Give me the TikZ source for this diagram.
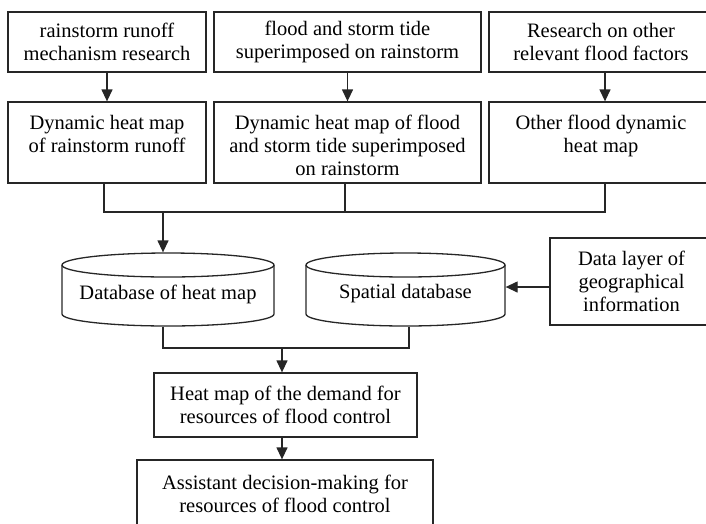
\documentclass[tikz,border=0pt]{standalone}
\usepackage{fontspec}
\setmainfont{Liberation Serif}
\usetikzlibrary{arrows.meta}
\begin{document}
\begin{tikzpicture}[x=1pt,y=-1pt,
  line width=1.3pt,
  color=black!85,
  box/.style={draw=black!85, inner sep=0pt},
  txt/.style={inner sep=0pt, align=center, font=\fontsize{20.5}{23}\selectfont, text=black},
  arr/.style={-{Triangle[length=12pt,width=11pt]}}]
\useasboundingbox (0,0) rectangle (706,523);
\clip (0,0) rectangle (706,523);
% top row
\node[box,txt,minimum width=198pt,minimum height=60pt] (a1) at (107,42) {rainstorm runoff\\mechanism research};
\node[box,txt,minimum width=267pt,minimum height=60pt] (a2) at (347.5,42) {flood and storm tide\\superimposed on rainstorm};
\node[box,txt,minimum width=224pt,minimum height=60pt] (a3) at (601,42) {Research on other\\relevant flood factors};
% second row
\node[box,minimum width=198pt,minimum height=81pt] (b1) at (107,142.5) {};
\node[txt,anchor=north] (b1t) at (107,113) {\strut Dynamic heat map\\of rainstorm runoff};
\node[box,minimum width=267pt,minimum height=81pt] (b2) at (347.5,142.5) {};
\node[txt,anchor=north] (b2t) at (347.5,113) {\strut Dynamic heat map of flood\\and storm tide superimposed\\on rainstorm};
\node[box,minimum width=224pt,minimum height=81pt] (b3) at (601,142.5) {};
\node[txt,anchor=north] (b3t) at (601,113) {\strut Other flood dynamic\\heat map};
% databases
\node[minimum width=212pt,minimum height=73pt,inner sep=0pt] (db1) at (168,289.5) {};
\draw (62,265) -- (62,314) arc[start angle=180,end angle=0,x radius=106,y radius=12] -- (274,265);
\draw (168,265) ellipse[x radius=106,y radius=12];
\node[txt] (db1t) at (168,294) {Database of heat map};
\node[minimum width=199pt,minimum height=73pt,inner sep=0pt] (db2) at (405.5,289.5) {};
\draw (306,265) -- (306,314) arc[start angle=180,end angle=0,x radius=99.5,y radius=12] -- (505,265);
\draw (405.5,265) ellipse[x radius=99.5,y radius=12];
\node[txt] (db2t) at (405.5,294) {Spatial database};
% geographic info
\node[box,txt,minimum width=163pt,minimum height=87pt] (gi) at (631.5,281.5) {Data layer of\\geographical\\information};
% bottom boxes
\node[box,txt,minimum width=263pt,minimum height=64pt] (hm) at (285.5,405) {Heat map of the demand for\\resources of flood control};
\node[box,minimum width=296pt,minimum height=85pt] (ad) at (285,502.5) {};
\node[txt,anchor=north] (adt) at (285,473) {\strut Assistant decision-making for\\resources of flood control};
% connectors
\draw[arr] (a1) -- (b1);
\draw[arr] (a2) -- (b2);
\draw[arr] ([xshift=4pt]a3.south) -- ([xshift=4pt]b3.north);
\coordinate (j1) at (163,212);
\draw ([xshift=-3pt]b1.south) |- ([xshift=4pt]b3.south |- j1) -- ([xshift=4pt]b3.south);
\draw ([xshift=-2.5pt]b2.south) -- ([xshift=-2.5pt]b2.south |- j1);
\draw[arr] (j1) -- (j1 |- db1.north);
\draw[arr] ([yshift=-5.5pt]gi.west) -- ([yshift=-5.5pt]gi.west -| db2.east);
\coordinate (j2) at (282,348);
\draw ([xshift=-5pt]db1.south) |- ([xshift=3.5pt]db2.south |- j2) -- ([xshift=3.5pt]db2.south);
\draw[arr] (j2) -- (j2 |- hm.north);
\draw[arr] (hm.south -| j2) -- (j2 |- ad.north);
\end{tikzpicture}
\end{document}
